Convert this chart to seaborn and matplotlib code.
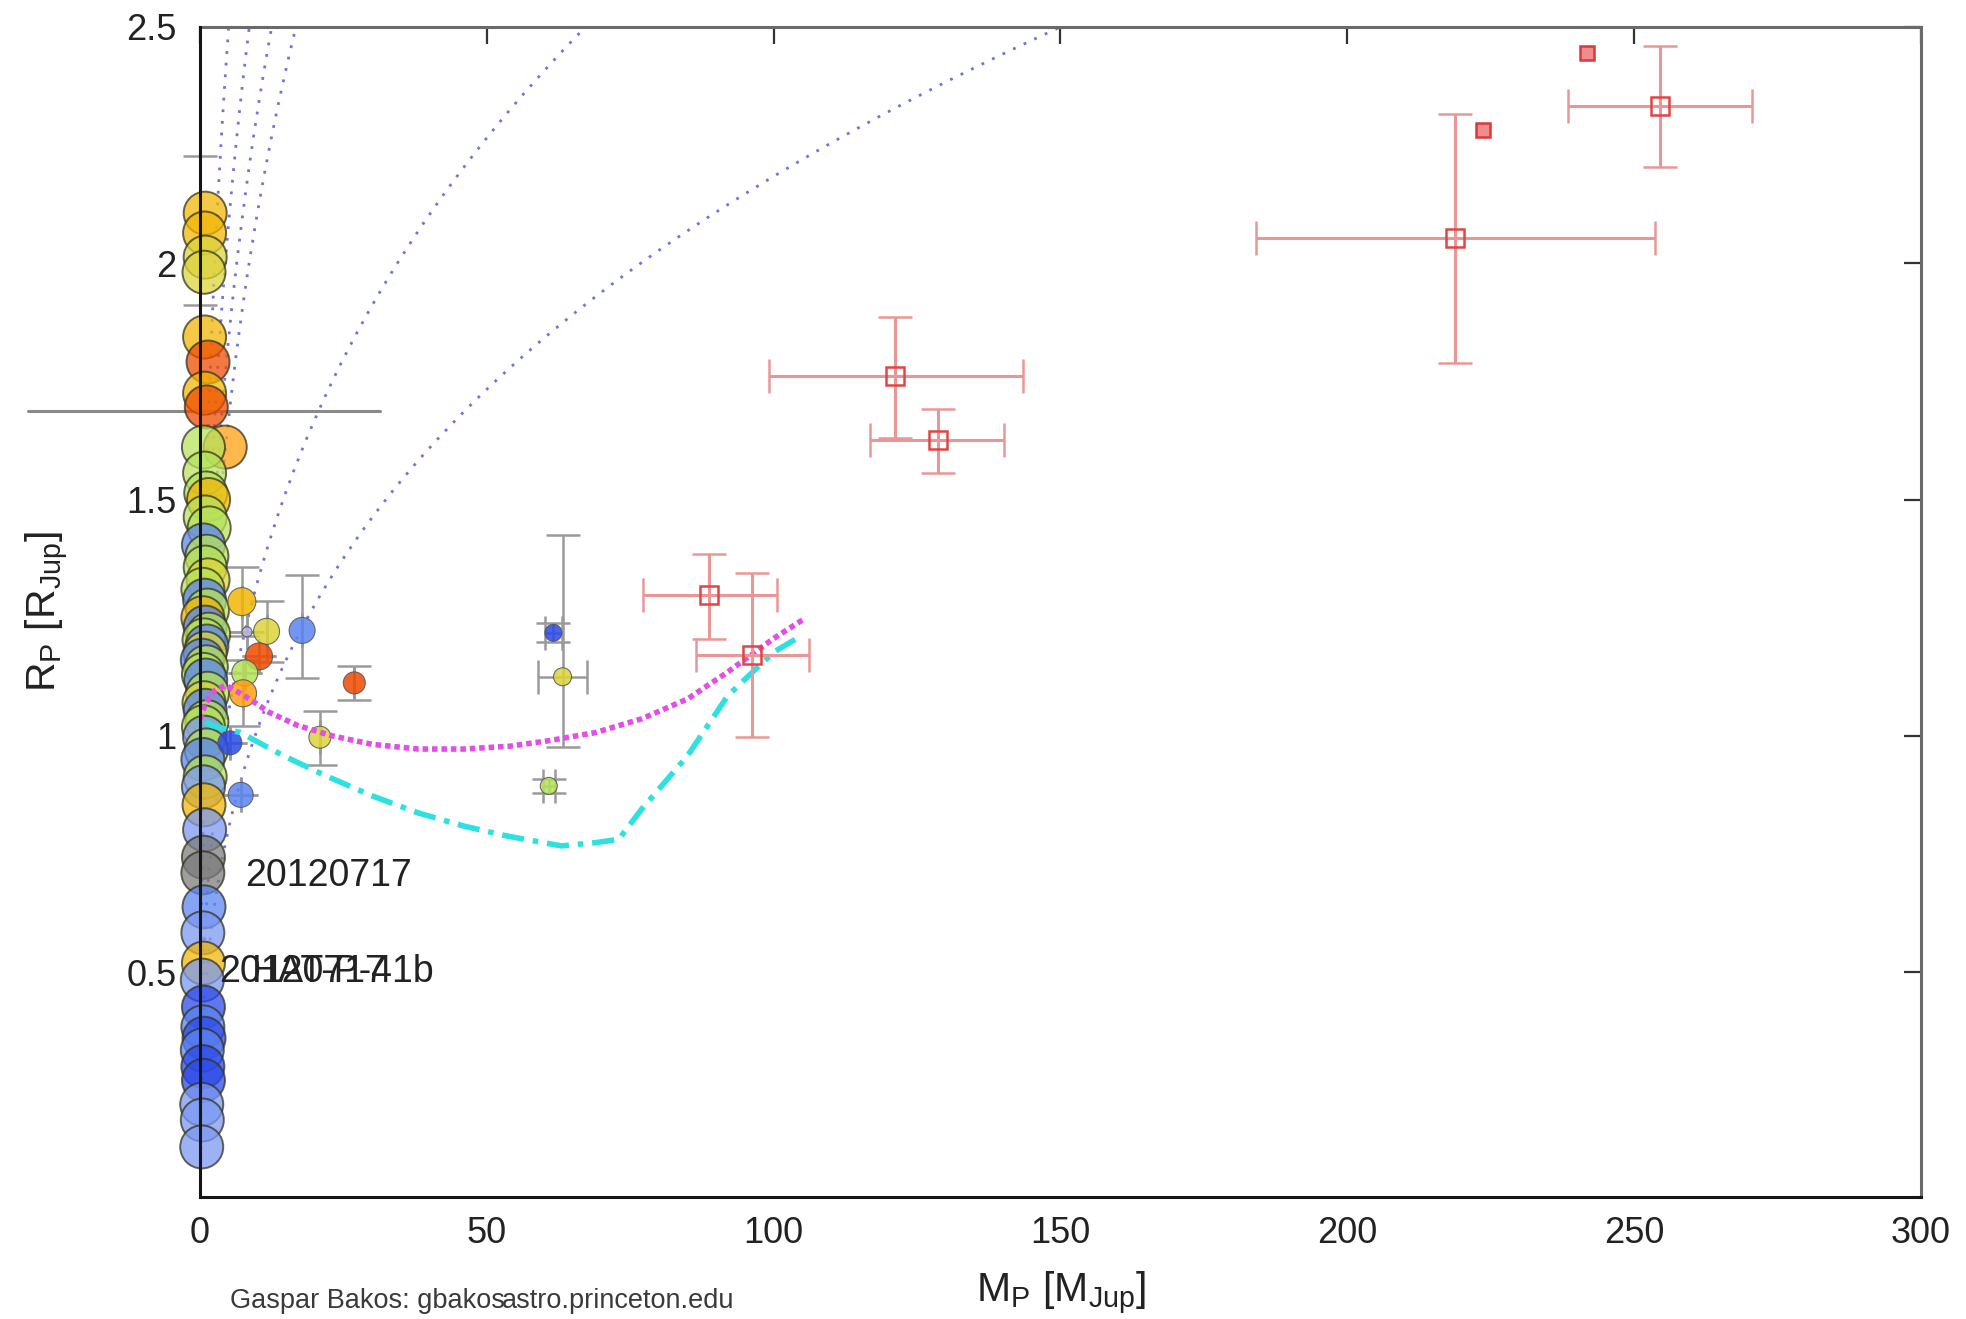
import numpy as np
import pandas as pd
import matplotlib
matplotlib.use("Agg")
import matplotlib.pyplot as plt
import seaborn as sns

# ---------------- data ----------------
# column of large circles near M ~ 0 (planets)
col_M = [0.9, 0.8, 0.9, 0.7, 0.8, 1.4, 0.8, 1.1, 4.4, 0.6, 0.8, 1.0, 1.5, 0.9, 1.6,
         0.6, 1.2, 0.9, 1.4, 0.5, 0.8, 1.3, 0.5, 0.9, 1.5, 0.7, 1.2, 0.9, 0.4, 1.1,
         0.6, 1.0, 1.3, 0.7, 0.9, 1.2, 0.6, 0.8, 1.1, 0.5, 0.9, 0.6, 0.7, 0.8, 0.6,
         0.5, 0.7, 0.5, 0.6, 0.4, 0.6, 0.5, 0.7, 0.4, 0.5, 0.6, 0.3, 0.4, 0.3]
col_R = [2.106, 2.064, 2.013, 1.981, 1.844, 1.791, 1.725, 1.696, 1.611, 1.611, 1.556, 1.514, 1.50, 1.463, 1.44,
         1.404, 1.38, 1.357, 1.33, 1.31, 1.287, 1.266, 1.25, 1.23, 1.215, 1.203, 1.19, 1.175, 1.16, 1.146,
         1.13, 1.118, 1.09, 1.07, 1.054, 1.03, 1.019, 0.997, 0.97, 0.95, 0.913, 0.892, 0.854, 0.801, 0.743,
         0.710, 0.638, 0.583, 0.519, 0.483, 0.426, 0.384, 0.36, 0.335, 0.30, 0.271, 0.22, 0.187, 0.130]
col_cls = ['gold', 'gold', 'yellow', 'yellow', 'gold', 'redorange', 'gold', 'redorange', 'orange', 'green',
           'green', 'green', 'gold', 'green', 'green', 'blue', 'green', 'green', 'yellow', 'green',
           'blue', 'green', 'gold', 'blue', 'green', 'green', 'blue', 'yellow', 'blue', 'green',
           'green', 'blue', 'green', 'yellow', 'blue', 'green', 'green', 'lightblue', 'green', 'blue',
           'green', 'lightblue', 'gold', 'lightblue', 'gray', 'gray', 'blue', 'lightblue', 'gold', 'lightblue',
           'darkblue', 'blue', 'darkblue', 'blue', 'darkblue', 'darkblue', 'lightblue', 'lightblue', 'lightblue']

# error bar on the top gold circle
colerr_M = [0.0]
colerr_R = [2.07]
colerr_dR = [0.158]

# smaller planets / brown dwarfs away from the column
off_M = [7.3, 11.6, 10.3, 7.8, 7.5, 17.8, 7.1, 26.9, 20.9, 61.6, 63.2, 60.8, 5.2, 8.2]
off_R = [1.284, 1.221, 1.168, 1.133, 1.090, 1.223, 0.875, 1.112, 0.997, 1.218, 1.125, 0.894, 0.985, 1.22]
off_cls = ['gold', 'yellow', 'redorange', 'green', 'orange', 'blue', 'blue', 'redorange', 'yellow',
           'darkblue', 'yellow', 'green', 'darkblue', 'lavender']
off_diam = [28, 26, 27, 26, 27, 26, 25, 22, 22, 17, 18, 17, 24, 10]
off_dR_lo = [0.073, 0.064, 0.0, 0.0, 0.07, 0.10, 0.0, 0.036, 0.059, 0.02, 0.149, 0.015, 0.0, 0.0]
off_dR_hi = [0.073, 0.064, 0.0, 0.0, 0.07, 0.117, 0.0, 0.036, 0.056, 0.02, 0.30, 0.015, 0.0, 0.0]
off_dM = [0, 0, 0, 0, 0, 0, 0, 0, 0, 1.5, 4.3, 1.0, 0, 0]

# low-mass stars (red open squares)
star_M = [88.8, 96.3, 121.2, 128.6, 218.7, 254.5]
star_R = [1.297, 1.172, 1.761, 1.626, 2.053, 2.332]
star_dM_lo = [11.5, 9.9, 22.1, 11.8, 34.6, 16.0]
star_dM_hi = [11.8, 9.8, 22.3, 11.6, 34.9, 16.0]
star_dR_lo = [0.093, 0.175, 0.130, 0.069, 0.263, 0.128]
star_dR_hi = [0.087, 0.172, 0.125, 0.066, 0.263, 0.127]
star2_M = [223.7, 241.8]
star2_R = [2.281, 2.446]

# model curves
mag_M = [0, 1, 2.5, 4.5, 7, 9, 12, 17, 23, 30, 38, 46, 54, 61, 69, 77, 85, 92, 100, 105]
mag_R = [1.035, 1.07, 1.095, 1.107, 1.09, 1.075, 1.05, 1.022, 1.0, 0.982, 0.972, 0.972, 0.978, 0.99,
         1.007, 1.036, 1.078, 1.135, 1.206, 1.245]
cyan_M = [1, 2, 7, 14.5, 22, 30, 38, 46, 53.5, 63, 69, 73, 77, 85, 92, 100, 105]
cyan_R = [1.03, 1.022, 1.007, 0.958, 0.915, 0.873, 0.837, 0.809, 0.788, 0.767, 0.774, 0.781, 0.845,
          0.958, 1.085, 1.177, 1.213]

# iso-density lines R = (M / rho)^(1/3), rho in Jupiter units
iso_rho = [0.32, 0.55, 0.80, 1.07, 4.3, 9.6]

# horizontal reference line
hline_M = [-30, 31.4]
hline_R = [1.687, 1.687]

# labels
lab_text = ['20120717', '20120717', 'HAT-P-41b']
lab_M = [7.8, 3.3, 9.0]
lab_R = [0.703, 0.5, 0.5]

x_ticks = [0, 50, 100, 150, 200, 250, 300]
y_ticks = [0.5, 1.0, 1.5, 2.0, 2.5]
y_ticklabels = ['0.5', '1', '1.5', '2', '2.5']

palette = {'gold': '#f2b705', 'yellow': '#dcd43a', 'redorange': '#f04a00', 'orange': '#ffa010',
           'green': '#b6e35a', 'blue': '#5b84f2', 'darkblue': '#2a48e8', 'lightblue': '#7b98f2',
           'gray': '#7c7c7c', 'lavender': '#b8b8dc'}

# ---------------- figure ----------------
sns.set_theme(style="white")
plt.rcParams['font.family'] = ['Liberation Sans', 'DejaVu Sans']
plt.rcParams['mathtext.default'] = 'regular'

fig = plt.figure(figsize=(19.66, 13.19), dpi=100)
ax = fig.add_axes([0.10173, 0.09249, 0.87538, 0.88704])
ax.set_facecolor('white')

# iso-density dotted curves
for rho in iso_rho:
    m = np.linspace(0, rho * 2.5 ** 3 * 1.02, 300)
    iso = pd.DataFrame({'M': m, 'R': (m / rho) ** (1.0 / 3.0)})
    sns.lineplot(data=iso, x='M', y='R', ax=ax, sort=False, estimator=None,
                 color='#7272dc', lw=2.0, linestyle=(0, (1, 3.2)), zorder=1)

# horizontal line
ax.plot(hline_M, hline_R, color='#8a8a8a', lw=2.2, clip_on=False, zorder=1.2)

# error bar at column top
ax.errorbar(colerr_M, colerr_R, yerr=colerr_dR, fmt='none', ecolor='#9a9a9a',
            elinewidth=1.8, capsize=12, capthick=1.8, zorder=1.5, clip_on=False)

# error bars of off-column points
ax.errorbar(off_M, off_R, yerr=[off_dR_lo, off_dR_hi], xerr=off_dM, fmt='none',
            ecolor='#9a9a9a', elinewidth=1.8, capsize=12, capthick=1.8, zorder=1.5)

# column circles
col_df = pd.DataFrame({'M': col_M, 'R': col_R, 'cls': col_cls})
sns.scatterplot(data=col_df, x='M', y='R', hue='cls', palette=palette, s=960,
                alpha=0.74, edgecolor='#33331f', linewidth=1.4, legend=False, ax=ax,
                clip_on=False, zorder=2)

# off-column circles
off_df = pd.DataFrame({'M': off_M, 'R': off_R, 'cls': off_cls,
                       'area': [(d * 0.72) ** 2 for d in off_diam]})
amin, amax = off_df['area'].min(), off_df['area'].max()
sns.scatterplot(data=off_df, x='M', y='R', hue='cls', palette=palette, size='area',
                sizes=(amin, amax), size_norm=(amin, amax), alpha=0.85,
                edgecolor='#555555', linewidth=0.8, legend=False, ax=ax, zorder=2.2)

# model curves
mag_df = pd.DataFrame({'M': mag_M, 'R': mag_R})
sns.lineplot(data=mag_df, x='M', y='R', ax=ax, sort=False, estimator=None,
             color='#e24ee6', lw=4.0, linestyle=(0, (1, 0.7)), zorder=3)
cyan_df = pd.DataFrame({'M': cyan_M, 'R': cyan_R})
sns.lineplot(data=cyan_df, x='M', y='R', ax=ax, sort=False, estimator=None,
             color='#2ee0e0', lw=4.0, linestyle=(0, (4, 1.6, 1, 1.6)), zorder=3)

# stars with error bars
ax.errorbar(star_M, star_R, xerr=[star_dM_lo, star_dM_hi], yerr=[star_dR_lo, star_dR_hi],
            fmt='s', mfc='none', mec='#e04545', ms=13.5, mew=1.8, ecolor='#eb9696',
            elinewidth=2.2, capsize=12, capthick=1.8, zorder=4)
ax.errorbar(star2_M, star2_R, fmt='s', mfc='#f08c8c', mec='#d83a3a', ms=10, mew=1.8,
            zorder=4)

# text labels
for t, m, r in zip(lab_text, lab_M, lab_R):
    ax.text(m, r, t, fontsize=27, color='#222222', ha='left', va='center', zorder=5)

# axes styling
ax.set_xlim(0, 300)
ax.set_ylim(0.024, 2.5)
ax.set_xticks(x_ticks)
ax.set_xticklabels([str(v) for v in x_ticks])
ax.set_yticks(y_ticks)
ax.set_yticklabels(y_ticklabels)
ax.tick_params(axis='both', direction='in', length=12, width=1.6, color='#333333',
               labelcolor='#222222', labelsize=26, top=True, right=True,
               labeltop=False, labelright=False)
ax.tick_params(axis='x', pad=14)
ax.tick_params(axis='y', pad=17)

for side in ['left', 'bottom']:
    ax.spines[side].set_color('#151515')
    ax.spines[side].set_linewidth(2.2)
for side in ['top', 'right']:
    ax.spines[side].set_color('#6a6a6a')
    ax.spines[side].set_linewidth(2.2)
ax.spines['left'].set_zorder(6)

ax.set_xlabel('M$_{P}$ [M$_{Jup}$]', fontsize=29.5, color='#222222')
ax.set_ylabel('R$_{P}$ [R$_{Jup}$]', fontsize=29.5, color='#222222')
ax.xaxis.set_label_coords(0.5, -0.062)
ax.yaxis.set_label_coords(-0.075, 0.5)

fig.text(0.117, 0.0136, 'Gaspar Bakos: gbakos', fontsize=19.5, color='#3a3a3a',
         ha='left', va='center')
fig.text(0.3733, 0.0136, 'astro.princeton.edu', fontsize=19.5, color='#3a3a3a',
         ha='right', va='center')

fig.savefig('out.png', dpi=100, facecolor='white')
